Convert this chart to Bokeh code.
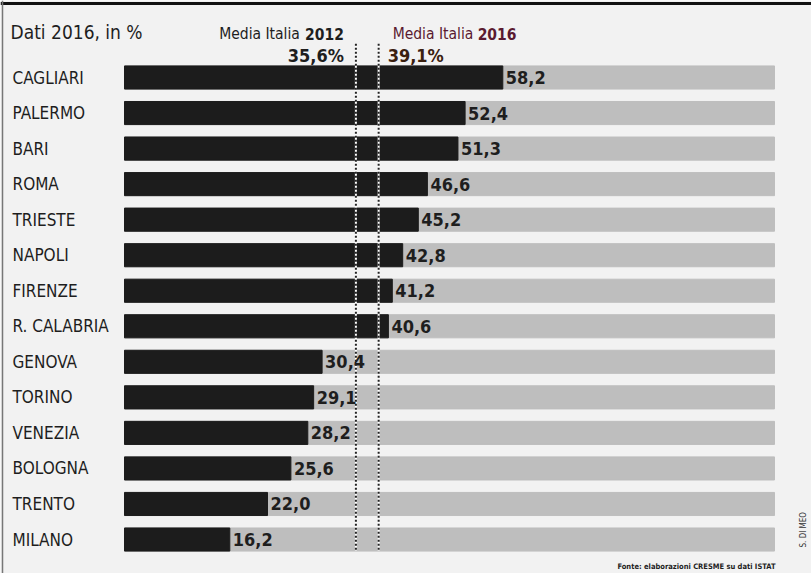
import math
from bokeh.plotting import figure
from bokeh.models import Range1d, ColumnDataSource, Label, Span
from bokeh.core.properties import value
from bokeh.embed import file_html
from bokeh.resources import INLINE

cities = ["CAGLIARI", "PALERMO", "BARI", "ROMA", "TRIESTE", "NAPOLI", "FIRENZE",
          "R. CALABRIA", "GENOVA", "TORINO", "VENEZIA", "BOLOGNA", "TRENTO", "MILANO"]
values = [58.2, 52.4, 51.3, 46.6, 45.2, 42.8, 41.2, 40.6, 30.4, 29.1, 28.2, 25.6, 22.0, 16.2]
full_scale = [100] * len(cities)
media_2012 = 35.6
media_2016 = 39.1
title_text = "Dati 2016, in %"
source_text = "Fonte: elaborazioni CRESME su dati ISTAT"
credit_text = "S. DI MEO"

W, H = 811, 573
X0, XS = 124, 6.5          # pixel of zero, pixels per unit
Y0, YS = 77, 35.54         # pixel of first row center, pixels per row

FONT = "DejaVu Sans Condensed"
BG = "#f2f2f2"
DARK = "#1c1c1c"
GREY = "#bebebe"
TXT = "#1e1e1e"

idx = list(range(len(cities)))
labels = [f"{v:.1f}".replace(".", ",") for v in values]
src = ColumnDataSource(dict(y=idx, city=cities, val=values, full=full_scale, lab=labels,
                            lx=[-X0 / XS] * len(cities)))

p = figure(width=W, height=H, output_backend="svg", toolbar_location=None,
           x_range=Range1d(-X0 / XS, (W - X0) / XS),
           y_range=Range1d((H - Y0) / YS, -Y0 / YS),
           min_border=0, min_border_left=0, min_border_right=0,
           min_border_top=0, min_border_bottom=0,
           background_fill_color=BG, border_fill_color=BG, outline_line_color=None)
p.axis.visible = False
p.grid.visible = False

p.hbar(y="y", left=0, right="full", height=0.65, color=GREY, source=src)
p.hbar(y="y", left=0, right="val", height=0.65, color=DARK, source=src)

# average lines
n = len(cities)
p.segment(x0=[media_2012, media_2016], x1=[media_2012, media_2016],
          y0=[-0.95] * 2, y1=[n - 1 + 0.31] * 2, line_color="white", line_width=2)
p.segment(x0=[media_2012, media_2016], x1=[media_2012, media_2016],
          y0=[-0.95] * 2, y1=[n - 1 + 0.31] * 2, line_color="#222222", line_width=2,
          line_dash="2 2")

p.text(x="lx", y="y", text="city", source=src, x_offset=12, text_align="left",
       text_baseline="middle", text_font=value(FONT), text_font_size="17px",
       text_color=TXT)
p.text(x="val", y="y", text="lab", source=src, x_offset=3, text_align="left",
       text_baseline="middle", text_font=value(FONT), text_font_size="18px",
       text_font_style="bold", text_color=TXT)

# frame lines
p.add_layout(Span(location=-(Y0 - 3) / YS, dimension="width", line_color="#111111", line_width=3))
p.add_layout(Span(location=-(X0 - 2) / XS, dimension="height", line_color="#777777", line_width=1.5))

# texts
p.add_layout(Label(x=10, y=H - 31, x_units="screen", y_units="screen", text=title_text,
                   text_font=FONT, text_font_size="19px", text_color=TXT,
                   text_baseline="alphabetic"))

p.add_layout(Label(x=media_2012, y=H - 33, y_units="screen", x_offset=-56, text="Media Italia",
                   text_font=FONT, text_font_size="15.5px", text_color=TXT,
                   text_align="right", text_baseline="alphabetic"))
p.add_layout(Label(x=media_2012, y=H - 33, y_units="screen", x_offset=-12, text="2012",
                   text_font=FONT, text_font_size="15.5px", text_font_style="bold", text_color=TXT,
                   text_align="right", text_baseline="alphabetic"))
p.add_layout(Label(x=media_2012, y=H - 55, y_units="screen", x_offset=-12,
                   text=f"{media_2012:.1f}%".replace(".", ","),
                   text_font=FONT, text_font_size="18px", text_font_style="bold", text_color=TXT,
                   text_align="right", text_baseline="alphabetic"))

MAROON = "#5a1a30"
p.add_layout(Label(x=media_2016, y=H - 33, y_units="screen", x_offset=14, text="Media Italia",
                   text_font=FONT, text_font_size="15.5px", text_color=MAROON,
                   text_align="left", text_baseline="alphabetic"))
p.add_layout(Label(x=media_2016, y=H - 33, y_units="screen", x_offset=99, text="2016",
                   text_font=FONT, text_font_size="15.5px", text_font_style="bold", text_color=MAROON,
                   text_align="left", text_baseline="alphabetic"))
p.add_layout(Label(x=media_2016, y=H - 55, y_units="screen", x_offset=9,
                   text=f"{media_2016:.1f}%".replace(".", ","),
                   text_font=FONT, text_font_size="18px", text_font_style="bold", text_color="#3a2010",
                   text_align="left", text_baseline="alphabetic"))

p.add_layout(Label(x=775, y=3, x_units="screen", y_units="screen", text=source_text,
                   text_font=FONT, text_font_size="7.5px", text_font_style="bold", text_color=TXT,
                   text_align="right", text_baseline="bottom"))
p.add_layout(Label(x=803, y=26, x_units="screen", y_units="screen", text=credit_text,
                   angle=math.pi / 2, text_font=FONT, text_font_size="8px", text_color="#333333",
                   text_align="left", text_baseline="middle"))

open("out.html", "w").write(file_html(p, INLINE))
